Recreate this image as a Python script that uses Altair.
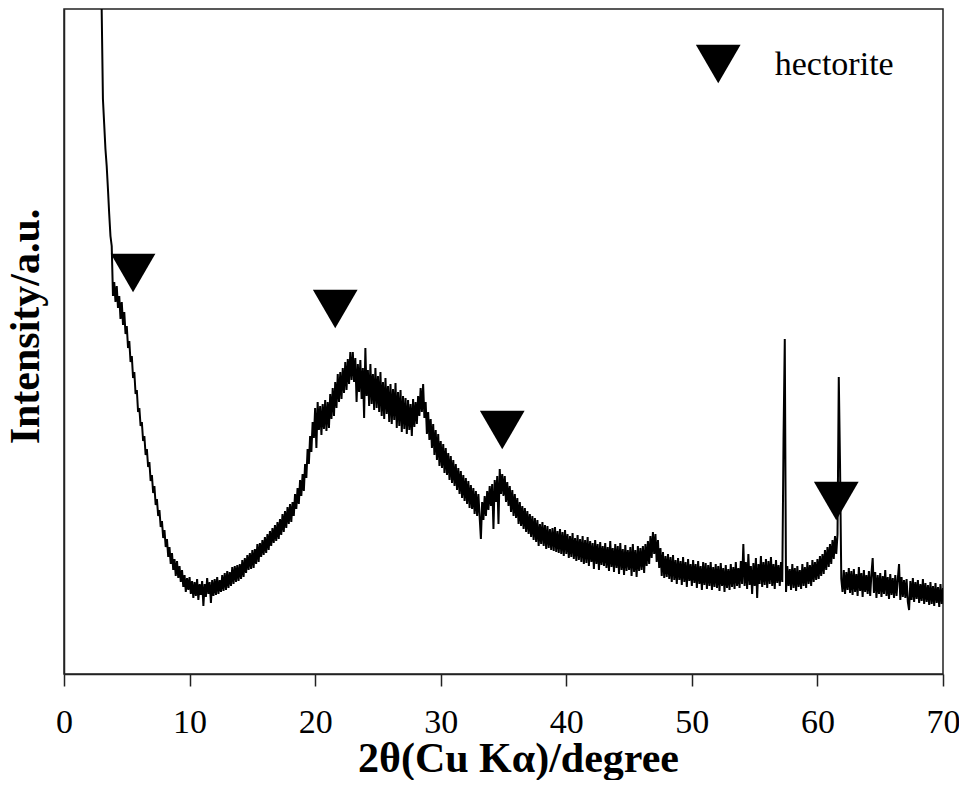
import altair as alt
import pandas as pd

start_deg = 2.9
step_deg = 0.1
intensity = [
    720, 665, 575, 550, 525, 508, 485, 460, 438, 428, 378,          # 2.9 - 3.9
    392, 372, 388, 366, 378, 355, 372, 349, 362, 340,               # 4
    348, 326, 333, 312, 318, 296, 302, 280, 284, 262,               # 5
    266, 248, 252, 233, 238, 219, 225, 207, 212, 193,               # 6
    199, 181, 188, 169, 175, 158, 164, 147, 153, 136,               # 7
    144, 127, 135, 117, 127, 110, 121, 104, 115, 98,                # 8
    113, 96, 108, 92, 104, 87, 99, 82, 96, 84,                      # 9
    97, 80, 93, 76, 92, 78, 95, 74, 90, 79,                         # 10
    93, 68, 90, 77, 96, 80, 92, 71, 94, 78,                         # 11
    95, 79, 97, 80, 94, 82, 99, 83, 101, 84,                        # 12
    103, 86, 102, 88, 107, 90, 108, 92, 109, 93,                    # 13
    110, 95, 114, 97, 116, 101, 119, 104, 121, 105,                 # 14
    124, 106, 125, 110, 130, 112, 131, 117, 134, 119,               # 15
    137, 121, 140, 124, 143, 128, 146, 131, 149, 133,               # 16
    152, 135, 155, 139, 160, 142, 163, 146, 167, 150,               # 17
    170, 152, 172, 158, 180, 165, 186, 170, 194, 178,               # 18
    200, 183, 210, 196, 225, 210, 238, 222, 252, 236,               # 19
    266, 226, 272, 244, 268, 239, 270, 245, 274, 243,               # 20
    272, 246, 280, 255, 286, 258, 292, 266, 300, 272,               # 21
    302, 275, 306, 281, 312, 284, 315, 290, 322, 294,               # 22
    322, 292, 316, 272, 310, 282, 314, 275, 306, 256,               # 23
    326, 278, 304, 268, 310, 270, 300, 264, 306, 266,               # 24
    298, 262, 302, 258, 292, 255, 296, 260, 288, 252,               # 25
    290, 250, 285, 254, 291, 246, 282, 248, 284, 242,               # 26
    278, 245, 276, 240, 274, 244, 270, 238, 275, 247,               # 27
    272, 250, 278, 258, 286, 262, 290, 256, 272, 240,               # 28
    262, 234, 255, 226, 250, 219, 244, 214, 240, 208,               # 29
    233, 206, 230, 201, 226, 199, 221, 194, 218, 191,               # 30
    214, 188, 210, 184, 206, 180, 203, 176, 199, 173,               # 31
    196, 170, 193, 166, 189, 165, 186, 160, 183, 158,               # 32
    180, 157, 135, 172, 154, 178, 158, 183, 164, 188,               # 33
    168, 190, 145, 194, 172, 198, 150, 205, 180, 200,               # 34
    178, 198, 172, 192, 168, 188, 162, 184, 158, 180,               # 35
    156, 176, 150, 172, 148, 168, 145, 166, 142, 163,               # 36
    140, 160, 137, 158, 134, 156, 132, 154, 128, 150,               # 37
    130, 152, 128, 149, 125, 148, 126, 145, 124, 146,               # 38
    123, 147, 122, 143, 121, 145, 120, 142, 118, 144,               # 39
    120, 140, 116, 138, 117, 141, 115, 136, 113, 139,               # 40
    114, 135, 112, 138, 110, 134, 111, 137, 108, 133,               # 41
    112, 131, 105, 134, 110, 130, 104, 132, 109, 128,               # 42
    108, 131, 106, 127, 103, 133, 107, 126, 102, 130,               # 43
    106, 128, 100, 131, 104, 125, 99, 129, 103, 124,                # 44
    104, 127, 98, 130, 102, 124, 97, 128, 103, 126,                 # 45
    104, 128, 101, 130, 108, 133, 110, 138, 116, 142,               # 46
    120, 140, 112, 134, 106, 126, 98, 122, 96, 118,                 # 47
    97, 120, 95, 117, 92, 119, 94, 114, 90, 116,                    # 48
    94, 113, 89, 117, 92, 112, 87, 115, 93, 110,                    # 49
    88, 114, 91, 110, 86, 113, 90, 108, 84, 112,                    # 50
    89, 111, 85, 109, 88, 112, 84, 107, 87, 110,                    # 51
    86, 108, 83, 111, 88, 106, 82, 109, 86, 105,                    # 52
    84, 110, 87, 107, 85, 112, 88, 106, 86, 113,                    # 53
    90, 130, 88, 112, 85, 120, 89, 108, 80, 111,                    # 54
    88, 116, 76, 110, 90, 118, 87, 112, 89, 115,                    # 55
    86, 113, 90, 117, 88, 110, 85, 114, 91, 109,                    # 56
    88, 112, 92, 235, 335, 82, 108, 88, 105, 84,                    # 57
    110, 86, 106, 83, 108, 87, 104, 85, 110, 88,                    # 58
    107, 86, 112, 90, 109, 88, 114, 92, 112, 94,                    # 59
    115, 95, 118, 98, 120, 100, 124, 104, 127, 107,                 # 60
    130, 110, 134, 115, 138, 120, 140, 297, 210, 95,                # 61
    82, 104, 80, 102, 84, 106, 81, 103, 79, 105,                    # 62
    82, 100, 78, 107, 83, 101, 77, 104, 82, 99,                     # 63
    80, 103, 78, 100, 116, 81, 102, 76, 99, 80,                     # 64
    101, 77, 98, 80, 104, 78, 97, 75, 100, 79,                      # 65
    96, 76, 99, 78, 95, 110, 74, 97, 77, 94,                        # 66
    76, 95, 72, 64, 93, 74, 96, 72, 92, 75,                         # 67
    94, 71, 90, 73, 95, 70, 91, 72, 89, 69,                         # 68
    92, 70, 88, 68, 91, 71, 87, 67, 90, 70,                         # 69
    86,                                                             # 70
]
two_theta = [round(start_deg + step_deg * i, 1) for i in range(len(intensity))]

# hectorite reflections (triangle markers)
marker_deg = [5.5, 21.6, 34.9, 61.5]
marker_int = [401, 365, 244, 173]

# legend
legend_marker_deg = [52.1]
legend_marker_int = [610]
legend_text_deg = [56.6]
legend_text_int = [599]
legend_label = ["hectorite"]

x_ticks = [0, 10, 20, 30, 40, 50, 60, 70]

FONT = "Liberation Serif"

df = pd.DataFrame({"x": two_theta, "y": intensity})
dm = pd.DataFrame({"x": marker_deg + legend_marker_deg, "y": marker_int + legend_marker_int})
dt = pd.DataFrame({"x": legend_text_deg, "y": legend_text_int, "t": legend_label})

xscale = alt.Scale(domain=[0, 70], nice=False, zero=False)
yscale = alt.Scale(domain=[0, 665], nice=False, zero=False)

xaxis = alt.Axis(
    values=x_ticks, title="2θ(Cu Kα)/degree", grid=False,
    tickSize=12, tickColor="#222", tickWidth=1.5,
    domainColor="#222", domainWidth=1.5,
    labelFont=FONT, labelFontSize=34, labelColor="black", labelPadding=19,
    labelFlush=False,
    titleFont=FONT, titleFontSize=42, titleFontWeight="bold", titleColor="black",
    titleX=454, titleY=97, titleBaseline="alphabetic", titleAlign="center",
)
yaxis = alt.Axis(
    title="Intensity/a.u.", grid=False, ticks=False, labels=False,
    domainColor="#222", domainWidth=1.5,
    titleFont=FONT, titleFontSize=42, titleFontWeight="bold", titleColor="black",
    titlePadding=17, titleY=317,
)

line = alt.Chart(df).mark_line(color="black", strokeWidth=2, clip=True).encode(
    x=alt.X("x:Q", scale=xscale, axis=xaxis),
    y=alt.Y("y:Q", scale=yscale, axis=yaxis),
)

tri = alt.Chart(dm).mark_point(
    shape="triangle-down", filled=True, size=2000, color="black", opacity=1
).encode(
    x=alt.X("x:Q", scale=xscale),
    y=alt.Y("y:Q", scale=yscale),
)

txt = alt.Chart(dt).mark_text(
    font=FONT, fontSize=34, align="left", baseline="alphabetic", color="black"
).encode(
    x=alt.X("x:Q", scale=xscale),
    y=alt.Y("y:Q", scale=yscale),
    text="t:N",
)

chart = alt.layer(line, tri, txt).properties(
    width=879, height=665,
    autosize=alt.AutoSizeParams(type="none"),
    padding={"left": 56, "top": 1, "right": 16, "bottom": 106},
    background="white",
).configure_view(stroke="#222", strokeWidth=1.5)

chart.save("out.html", embed_options={"renderer": "svg", "actions": False})
